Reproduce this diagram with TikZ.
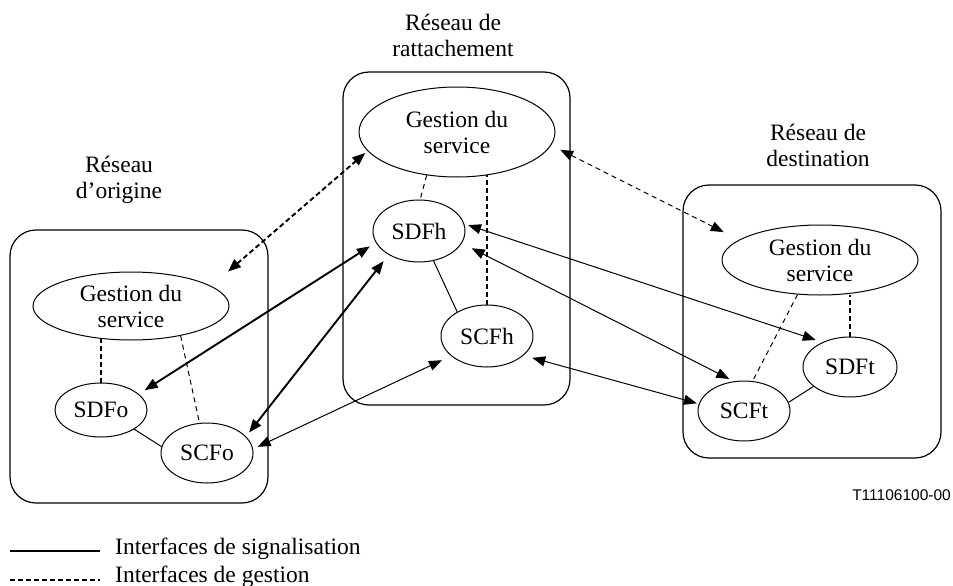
\documentclass[tikz,border=0pt]{standalone}
\usepackage{fontspec}
\setmainfont{Liberation Serif}
\newfontfamily\figsans{Liberation Sans}
\usetikzlibrary{shapes.geometric,arrows.meta}

\begin{document}
\begin{tikzpicture}[x=1pt,y=-1pt,
  txt/.style={font=\fontsize{23.5}{26}\selectfont, align=center},
  fn/.style={ellipse, draw, line width=1pt, inner sep=0pt, txt},
  netbox/.style={draw, line width=1.2pt, rounded corners=26pt},
  sig/.style={line width=1pt},
  sigthick/.style={line width=1.9pt},
  mgmt/.style={line width=1pt, dash pattern=on 5pt off 4pt},
  mgmtthick/.style={line width=1.9pt, dash pattern=on 5pt off 3pt},
  biarrow/.style={{Triangle[length=13pt,width=10pt]}-{Triangle[length=13pt,width=10pt]}},
]
\useasboundingbox (0,0) rectangle (953,586);

% network domains
\draw[netbox] (10,230) rectangle (268,503);
\draw[netbox] (343,72) rectangle (570,405);
\draw[netbox] (683,185) rectangle (941,458);

\node[txt] (lblo) at (119,180) {Réseau\\d'origine};
\node[txt] (lblh) at (453,35) {Réseau de\\rattachement};
\node[txt] (lblt) at (818,145) {Réseau de\\destination};

% originating network
\node[fn, minimum width=196pt, minimum height=68pt] (go) at (131,306) {Gestion du\\service};
\node[fn, minimum width=92pt, minimum height=54pt] (sdfo) at (101,410) {SDFo};
\node[fn, minimum width=92pt, minimum height=60pt] (scfo) at (207,453) {SCFo};

% home network
\node[fn, minimum width=196pt, minimum height=90pt] (gh) at (457,132) {Gestion du\\service};
\node[fn, minimum width=92pt, minimum height=62pt] (sdfh) at (419,231) {SDFh};
\node[fn, minimum width=92pt, minimum height=62pt] (scfh) at (487,336) {SCFh};

% terminating network
\node[fn, minimum width=196pt, minimum height=70pt] (gt) at (820,260) {Gestion du\\service};
\node[fn, minimum width=94pt, minimum height=60pt] (sdft) at (850,367) {SDFt};
\node[fn, minimum width=92pt, minimum height=60pt] (scft) at (744,411) {SCFt};

% links inside each network
\draw[mgmtthick] (sdfo.north) -- (sdfo.north |- go.226.8);
\draw[mgmt] (go.-31) -- (scfo.104);
\draw[sig] (sdfo.-30.7) -- (scfo.172);

\draw[mgmt] (gh.235) -- (sdfh.88);
\draw[mgmtthick] (scfh.north) -- (scfh.north |- gh.-55);
\draw[sig] (sdfh.-64) -- (scfh.141);

\draw[mgmt] (gt.237.6) -- (scft.74.6);
\draw[mgmtthick] (sdft.north) -- (sdft.north |- gt.-63);
\draw[sig] (scft.11.6) -- (sdft.208.4);

% interfaces between networks
\draw[mgmtthick, biarrow, shorten <=22pt, shorten >=3pt] (go.14.2) -- (gh.192.3);
\draw[mgmt, biarrow, shorten <=10pt, shorten >=17pt] (gh.-8.5) -- (gt.166);
\draw[sigthick, biarrow, shorten <=7pt, shorten >=7pt] (sdfo.23.4) -- (sdfh.195.6);
\draw[sigthick, biarrow, shorten <=5pt, shorten >=8pt] (scfo.23.8) -- (sdfh.218.9);
\draw[sig, biarrow, shorten <=5pt, shorten >=10pt] (scfo.5.6) -- (scfh.209.6);
\draw[sig, biarrow, shorten <=4pt, shorten >=7pt] (sdfh.9.3) -- (sdft.138.7);
\draw[sig, biarrow, shorten <=11pt, shorten >=5pt] (sdfh.-16.8) -- (scft.109.4);
\draw[sig, biarrow, shorten <=9pt, shorten >=2pt] (scfh.-28.6) -- (scft.171.7);

% figure reference
\node[font=\figsans\fontsize{15.5}{18}\selectfont, anchor=base east, inner sep=0pt] (figref) at (951,500) {T11106100-00};

% legend
\coordinate (ls1) at (10,551);
\coordinate (ls2) at (100,551);
\coordinate (lm1) at (10,580);
\coordinate (lm2) at (100,580);
\draw[line width=1.7pt] (ls1) -- (ls2);
\draw[line width=1.5pt, dash pattern=on 5pt off 3pt] (lm1) -- (lm2);
\node[txt, anchor=base west, inner sep=0pt] (legsig) at (115,554) {Interfaces de signalisation};
\node[txt, anchor=base west, inner sep=0pt] (legmgmt) at (115,582.5) {Interfaces de gestion};
\end{tikzpicture}
\end{document}
